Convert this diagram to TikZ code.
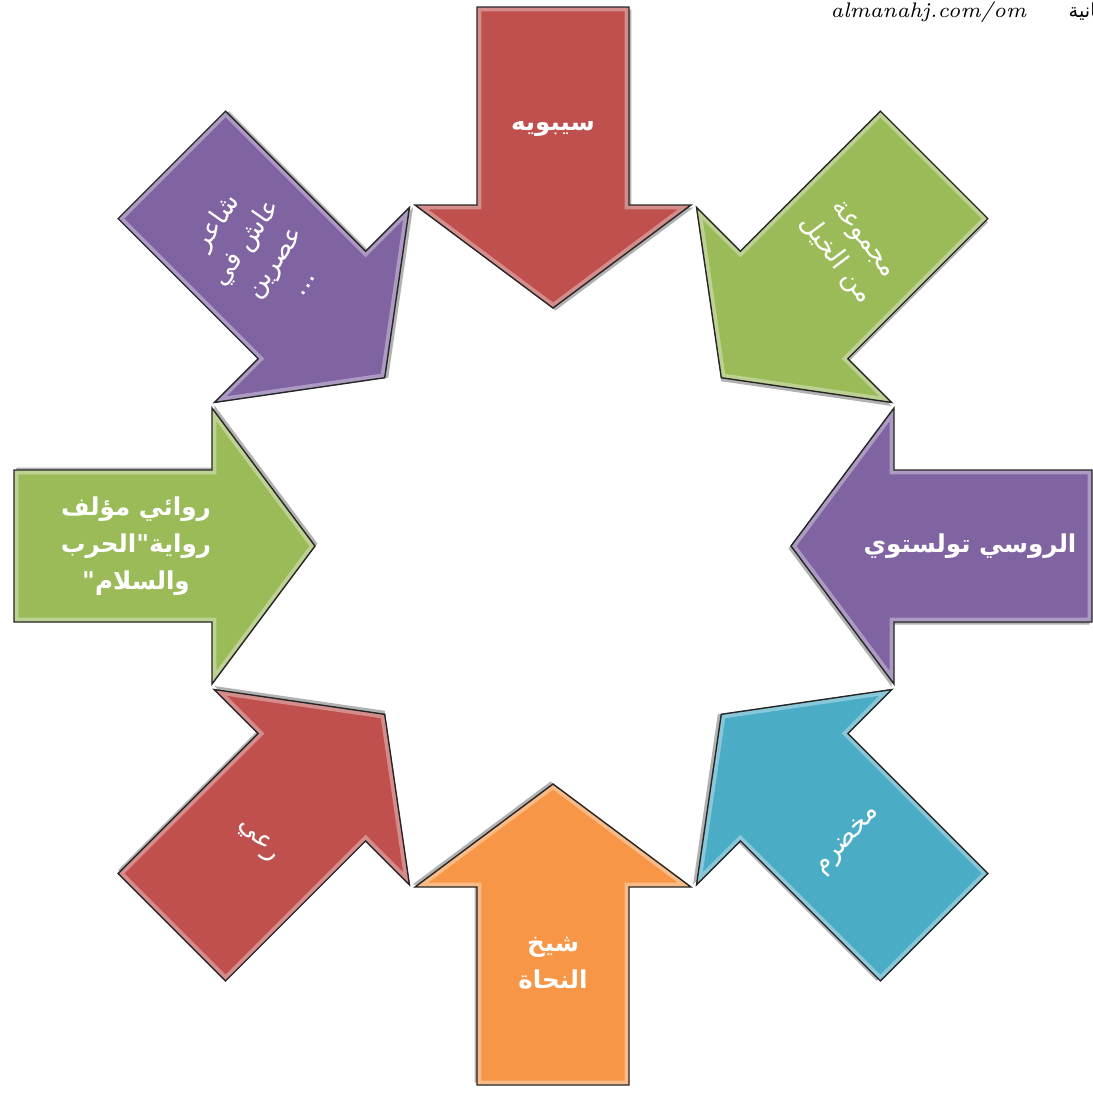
\documentclass[tikz,border=0pt]{standalone}
\usepackage{fontspec}
\newfontfamily\arabicfont[Script=Arabic]{DejaVu Sans}
\TeXXeTstate=1
\definecolor{offred}{HTML}{C0504D}
\definecolor{offgreen}{HTML}{9BBB59}
\definecolor{offpurple}{HTML}{8064A2}
\definecolor{offaqua}{HTML}{4BACC6}
\definecolor{offorange}{HTML}{F79646}
% one inward arrow, drawn pointing down, then turned round the centre
\newcommand{\arrowpath}{(0,2.38) -- (1.38,3.41) -- (0.76,3.41) -- (0.76,5.39) -- (-0.76,5.39) -- (-0.76,3.41) -- (-1.38,3.41) -- cycle}
\newcommand{\inarrow}[2]{%
  \begin{scope}[shift={(c)}, rotate=#1-90]
    \fill[black!30] [shift={(0.025,-0.025)}] \arrowpath;
    \fill[#2] \arrowpath;
    \begin{scope}
      \clip \arrowpath;
      \draw[white, opacity=.35, line width=2.5pt] \arrowpath;
    \end{scope}
    \draw[black!85, line width=.4pt] \arrowpath;
  \end{scope}}
\tikzset{
  boldlabel/.style={text=white, align=center, inner sep=1pt,
    font=\arabicfont\bfseries\fontsize{7}{10.5}\selectfont},
  thinlabel/.style={text=white, align=center, inner sep=1pt,
    font=\arabicfont\fontsize{7.5}{10}\selectfont},
}
\begin{document}
\begin{tikzpicture}
  \useasboundingbox (0,0) rectangle (10.93,-10.93);
  \coordinate (c) at (5.53,-5.46); % centre of the ring
  \foreach \a/\col in {135/offpurple, 180/offgreen, -135/offred, -90/offorange,
                      -45/offaqua, 0/offpurple, 45/offgreen, 90/offred}
    \inarrow{\a}{\col};
  % labels
  \node[boldlabel] (sibawayh) at ([shift={(90:4.17)}]c) {\beginR سيبويه\endR};
  \node[thinlabel, rotate=-53] (khayl) at ([shift={(45:4.17)}]c)
    {\beginR مجموعة\endR\\\beginR من الخيل\endR};
  \node[boldlabel] (tolstoy) at ([shift={(0:4.17)}]c) {\beginR الروسي تولستوي\endR};
  \node[thinlabel, rotate=48] (mukhadram) at ([shift={(-45:4.17)}]c) {\beginR مخضرم\endR};
  \node[boldlabel] (nuhat) at ([shift={(-90:4.17)}]c) {\beginR شيخ\endR\\\beginR النحاة\endR};
  \node[thinlabel, rotate=-48] (rai) at ([shift={(-135:4.17)}]c) {\beginR رعي\endR};
  \node[boldlabel] (riwai) at ([shift={(180:4.17)}]c)
    {\beginR روائي مؤلف\endR\\\beginR رواية"الحرب\endR\\\beginR والسلام"\endR};
  \node[thinlabel, rotate=55] (shaer) at ([shift={(135:4.17)}]c)
    {\beginR شاعر\endR\\\beginR عاش في\endR\\\beginR عصرين\endR\\\beginR ...\endR};
  % site mark, cut by the page edge
  \node[font=\itshape\fontsize{6}{7}\selectfont, anchor=east, inner sep=0pt] (site) at (10.27,-0.12) {almanahj.com/om};
  \node[font=\arabicfont\fontsize{5.5}{6}\selectfont, anchor=west, inner sep=0pt] (mark) at (10.68,-0.12) {\beginR العمانية\endR};
\end{tikzpicture}
\end{document}
